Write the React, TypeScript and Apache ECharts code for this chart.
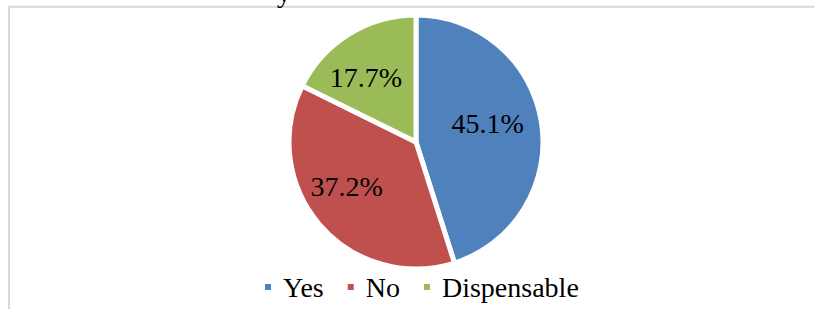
import React, { useEffect, useRef } from "react";
import * as echarts from "echarts";

const categories = ["Yes", "No", "Dispensable"];
const values = [45.1, 37.2, 17.7];
const colors = ["#4F81BD", "#C0504D", "#9BBB59"];
const labelOffsets = [[6, -8], [-19, 1], [-15, -8]];

const FONT = "'Liberation Serif', 'Times New Roman', serif";

export default function App() {
  const ref = useRef<HTMLDivElement>(null);
  useEffect(() => {
    document.body.style.margin = "0";
    const chart = echarts.init(ref.current!, null, { renderer: "svg" });
    chart.setOption({
      animation: false,
      backgroundColor: "#ffffff",
      graphic: [
        {
          type: "rect",
          z: 0,
          silent: true,
          shape: { x: 9, y: 6.8, width: 900, height: 400 },
          style: { fill: "none", stroke: "#d9d9d9", lineWidth: 2 },
        },
        {
          type: "text",
          z: 0,
          silent: true,
          x: 277,
          y: -22,
          style: { text: "y", font: `28px ${FONT}`, fill: "#000" },
        },
      ],
      legend: {
        data: categories,
        left: 263,
        top: 273,
        padding: 0,
        orient: "horizontal",
        icon: "rect",
        itemWidth: 8,
        itemHeight: 8,
        itemGap: 22,
        textStyle: {
          fontFamily: FONT,
          fontSize: 28,
          lineHeight: 28,
          color: "#000",
          padding: [0, 0, 0, 6],
        },
      },
      series: [
        {
          type: "pie",
          center: [416, 142],
          radius: [0, 127],
          startAngle: 90,
          clockwise: true,
          avoidLabelOverlap: false,
          itemStyle: { borderColor: "#ffffff", borderWidth: 5 },
          label: {
            show: true,
            position: "inside",
            formatter: (p: any) => `${values[p.dataIndex].toFixed(1)}%`,
            fontFamily: FONT,
            fontSize: 28,
            color: "#000",
          },
          labelLine: { show: false },
          emphasis: { disabled: true },
          data: categories.map((name, i) => ({
            name,
            value: values[i],
            itemStyle: { color: colors[i] },
            label: { offset: labelOffsets[i] },
          })),
        },
      ],
    });
    return () => chart.dispose();
  }, []);
  return <div ref={ref} style={{ width: 814, height: 309 }} />;
}
